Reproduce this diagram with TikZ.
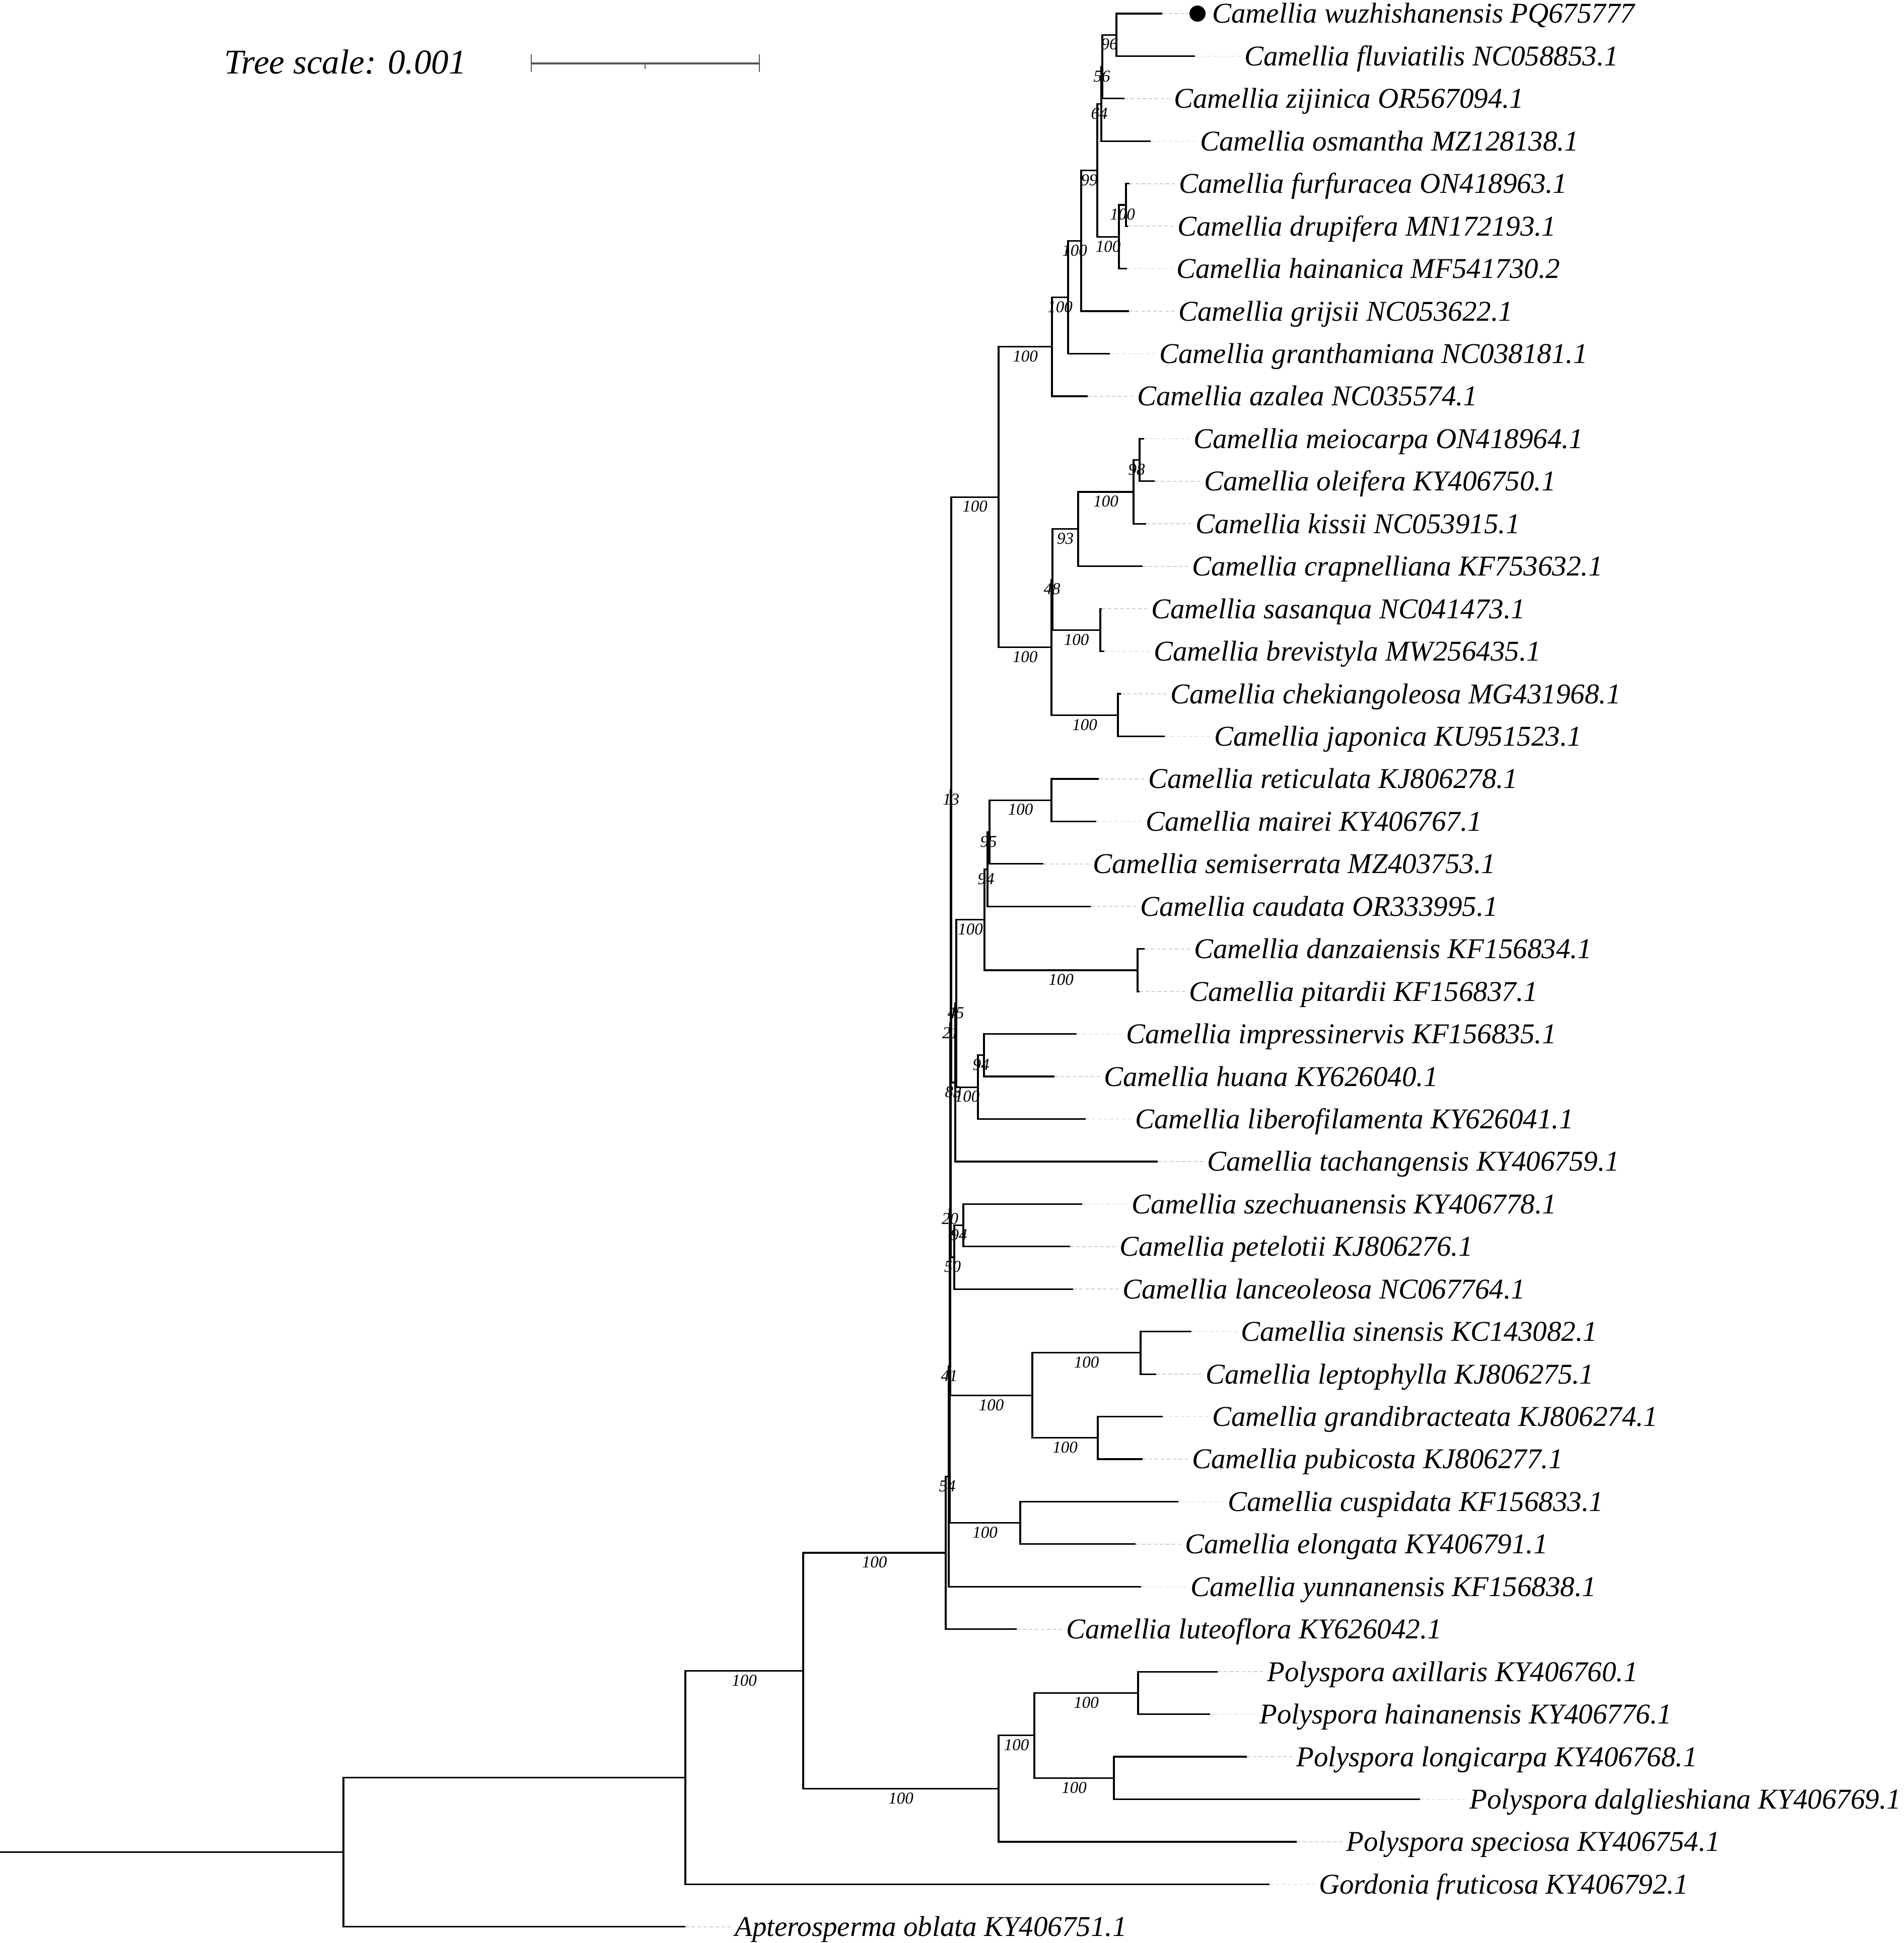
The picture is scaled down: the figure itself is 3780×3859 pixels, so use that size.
\documentclass[tikz,border=0pt]{standalone}
\usepackage{fontspec}
\setmainfont{Liberation Serif}
\usetikzlibrary{calc}
\definecolor{scalegray}{HTML}{555555}
\definecolor{leadergray}{HTML}{CFCFCF}
\tikzset{
  br/.style={line width=3.2pt, black},
  leader/.style={line width=1.6pt, leadergray, dash pattern=on 7pt off 5pt, shorten >=8pt},
  tiplab/.style={anchor=base west, inner sep=0pt, font=\fontsize{57}{60}\selectfont\itshape},
  bslab/.style={anchor=center, inner sep=0pt, font=\fontsize{33}{36}\selectfont\itshape},
  scaletext/.style={anchor=base west, inner sep=0pt, font=\fontsize{69}{72}\selectfont\itshape},
  scalebar/.style={line width=3.4pt, scalegray},
  scaletick/.style={line width=2.2pt, scalegray},
}
\newcommand{\TipLeaf}[4]{%
  \pgfmathsetmacro\tipyy{27+(#2-1)*84.44}%
  \coordinate (#1) at (#3,\tipyy);%
  \node[tiplab] (#1-lab) at (#3+98,\tipyy+19) {#4};%
  \draw[leader] (#1) -- (#1 -| #1-lab.west);%
}
\newcommand{\INode}[4]{%
  \path let \p1=(#3), \p2=(#4) in (#2pt,{(\y1+\y2)/2}) coordinate (#1);%
  \draw[br] (#1) |- (#3) (#1) |- (#4);%
}
\newcommand{\BsLab}[3]{%
  \path let \p1=(#1), \p2=(#2) in node[bslab] (bs-#2) at ({(\x1+\x2)/2},{\y2-19pt}) {#3};%
}
\begin{document}
\begin{tikzpicture}[x=1pt,y=-1pt]
\fill[white] (0,0) rectangle (3780,3859);
\useasboundingbox (0,0) rectangle (3780,3859);

% scale
\node[scaletext] (scale-lab) at (445,147) {Tree scale: 0.001};
\coordinate (sb1) at (1055,126);
\coordinate (sb2) at (1508,126);
\coordinate (sbm) at (1281,126);
\draw[scalebar] (sb1) -- (sb2);
\draw[scaletick] ([yshift=17.5pt]sb1) -- ([yshift=-17.5pt]sb1);
\draw[scaletick] ([yshift=17.5pt]sb2) -- ([yshift=-17.5pt]sb2);
\draw[scaletick] (sbm) -- ([yshift=-11pt]sbm);

% row 1 with marker
\coordinate (wuz) at (2308,27);
\node[circle, fill=black, inner sep=0pt, minimum size=32pt] (dot) at (2378,27) {};
\node[tiplab] (wuz-lab) at (2407,46) {Camellia wuzhishanensis PQ675777};
\draw[leader, shorten >=2pt] (wuz) -- (dot.west);

\TipLeaf{flu}{2}{2373}{Camellia fluviatilis NC058853.1}
\TipLeaf{zij}{3}{2233}{Camellia zijinica OR567094.1}
\TipLeaf{osm}{4}{2285}{Camellia osmantha MZ128138.1}
\TipLeaf{fur}{5}{2243}{Camellia furfuracea ON418963.1}
\TipLeaf{dru}{6}{2240}{Camellia drupifera MN172193.1}
\TipLeaf{hai}{7}{2238}{Camellia hainanica MF541730.2}
\TipLeaf{gri}{8}{2242}{Camellia grijsii NC053622.1}
\TipLeaf{gra}{9}{2204}{Camellia granthamiana NC038181.1}
\TipLeaf{aza}{10}{2160}{Camellia azalea NC035574.1}
\TipLeaf{mei}{11}{2272}{Camellia meiocarpa ON418964.1}
\TipLeaf{ole}{12}{2293}{Camellia oleifera KY406750.1}
\TipLeaf{kis}{13}{2276}{Camellia kissii NC053915.1}
\TipLeaf{cra}{14}{2269}{Camellia crapnelliana KF753632.1}
\TipLeaf{sas}{15}{2188}{Camellia sasanqua NC041473.1}
\TipLeaf{bre}{16}{2193}{Camellia brevistyla MW256435.1}
\TipLeaf{che}{17}{2226}{Camellia chekiangoleosa MG431968.1}
\TipLeaf{jap}{18}{2313}{Camellia japonica KU951523.1}
\TipLeaf{ret}{19}{2182}{Camellia reticulata KJ806278.1}
\TipLeaf{mai}{20}{2177}{Camellia mairei KY406767.1}
\TipLeaf{sem}{21}{2072}{Camellia semiserrata MZ403753.1}
\TipLeaf{cau}{22}{2166}{Camellia caudata OR333995.1}
\TipLeaf{dan}{23}{2273}{Camellia danzaiensis KF156834.1}
\TipLeaf{pit}{24}{2263}{Camellia pitardii KF156837.1}
\TipLeaf{imp}{25}{2138}{Camellia impressinervis KF156835.1}
\TipLeaf{hua}{26}{2094}{Camellia huana KY626040.1}
\TipLeaf{lib}{27}{2156}{Camellia liberofilamenta KY626041.1}
\TipLeaf{tac}{28}{2299}{Camellia tachangensis KY406759.1}
\TipLeaf{sze}{29}{2149}{Camellia szechuanensis KY406778.1}
\TipLeaf{pet}{30}{2125}{Camellia petelotii KJ806276.1}
\TipLeaf{lan}{31}{2131}{Camellia lanceoleosa NC067764.1}
\TipLeaf{sin}{32}{2366}{Camellia sinensis KC143082.1}
\TipLeaf{lep}{33}{2296}{Camellia leptophylla KJ806275.1}
\TipLeaf{grb}{34}{2309}{Camellia grandibracteata KJ806274.1}
\TipLeaf{pub}{35}{2269}{Camellia pubicosta KJ806277.1}
\TipLeaf{cus}{36}{2340}{Camellia cuspidata KF156833.1}
\TipLeaf{elo}{37}{2255}{Camellia elongata KY406791.1}
\TipLeaf{yun}{38}{2266}{Camellia yunnanensis KF156838.1}
\TipLeaf{lut}{39}{2019}{Camellia luteoflora KY626042.1}
\TipLeaf{pax}{40}{2418}{Polyspora axillaris KY406760.1}
\TipLeaf{pha}{41}{2403}{Polyspora hainanensis KY406776.1}
\TipLeaf{plo}{42}{2476}{Polyspora longicarpa KY406768.1}
\TipLeaf{pda}{43}{2820}{Polyspora dalglieshiana KY406769.1}
\TipLeaf{psp}{44}{2575}{Polyspora speciosa KY406754.1}
\TipLeaf{gor}{45}{2521}{Gordonia fruticosa KY406792.1}
\TipLeaf{apt}{46}{1361}{Apterosperma oblata KY406751.1}

% internal nodes
\INode{n96}{2217}{wuz}{flu}
\INode{n56}{2189}{n96}{zij}
\INode{n64}{2187}{n56}{osm}
\INode{n100b}{2236}{fur}{dru}
\INode{n100a}{2222}{n100b}{hai}
\INode{n99}{2179}{n64}{n100a}
\INode{n100c}{2147}{n99}{gri}
\INode{n100d}{2121}{n100c}{gra}
\INode{n100e}{2089}{n100d}{aza}
\INode{n98}{2263}{mei}{ole}
\INode{n100g}{2251}{n98}{kis}
\INode{n93}{2141}{n100g}{cra}
\INode{n100p}{2185}{sas}{bre}
\INode{n48}{2090}{n93}{n100p}
\INode{n100q}{2220}{che}{jap}
\INode{n100f}{2088}{n48}{n100q}
\INode{nP}{1983}{n100e}{n100f}
\INode{n100i}{2088}{ret}{mai}
\INode{n95}{1965}{n100i}{sem}
\INode{n94a}{1961}{n95}{cau}
\INode{n100j}{2259}{dan}{pit}
\INode{n100h}{1955}{n94a}{n100j}
\INode{n94b}{1954}{imp}{hua}
\INode{n100k}{1942}{n94b}{lib}
\INode{n45}{1899}{n100h}{n100k}
\INode{n83}{1897}{n45}{tac}
\INode{n13}{1889}{nP}{n83}
\INode{n94c}{1913}{sze}{pet}
\INode{n50}{1895}{n94c}{lan}
\INode{n21}{1888}{n13}{n50}
\INode{n100m}{2265}{sin}{lep}
\INode{n100n}{2180}{grb}{pub}
\INode{n100l}{2050}{n100m}{n100n}
\INode{n20}{1887}{n21}{n100l}
\INode{n100o}{2026}{cus}{elo}
\INode{n41}{1886}{n20}{n100o}
\INode{n54}{1884}{n41}{yun}
\INode{nR}{1878}{n54}{lut}
\INode{nF}{2260}{pax}{pha}
\INode{nG}{2212}{plo}{pda}
\INode{nE}{2054}{nF}{nG}
\INode{nD}{1983}{nE}{psp}
\INode{nC}{1595}{nR}{nD}
\INode{nB}{1361}{nC}{gor}
\INode{nA}{682}{nB}{apt}
\path (nA) ++(-682,0) coordinate (root);
\draw[br] (root) -- (nA);

% bootstrap values
\BsLab{nB}{nC}{100}
\BsLab{nC}{nR}{100}
\BsLab{nC}{nD}{100}
\BsLab{nD}{nE}{100}
\BsLab{nE}{nF}{100}
\BsLab{nE}{nG}{100}
\BsLab{nR}{n54}{54}
\BsLab{n54}{n41}{41}
\BsLab{n41}{n20}{20}
\BsLab{n20}{n21}{21}
\BsLab{n21}{n13}{13}
\BsLab{n13}{nP}{100}
\BsLab{n13}{n83}{83}
\BsLab{n83}{n45}{45}
\BsLab{n45}{n100h}{100}
\BsLab{n45}{n100k}{100}
\BsLab{n100h}{n94a}{94}
\BsLab{n94a}{n95}{95}
\BsLab{n95}{n100i}{100}
\BsLab{n100h}{n100j}{100}
\BsLab{n100k}{n94b}{94}
\BsLab{n21}{n50}{50}
\BsLab{n50}{n94c}{94}
\BsLab{n20}{n100l}{100}
\BsLab{n100l}{n100m}{100}
\BsLab{n100l}{n100n}{100}
\BsLab{n41}{n100o}{100}
\BsLab{nP}{n100e}{100}
\BsLab{n100e}{n100d}{100}
\BsLab{n100d}{n100c}{100}
\BsLab{n100c}{n99}{99}
\BsLab{n99}{n64}{64}
\BsLab{n64}{n56}{56}
\BsLab{n56}{n96}{96}
\BsLab{n99}{n100a}{100}
\BsLab{n100a}{n100b}{100}
\BsLab{nP}{n100f}{100}
\BsLab{n100f}{n48}{48}
\BsLab{n48}{n93}{93}
\BsLab{n93}{n100g}{100}
\BsLab{n100g}{n98}{98}
\BsLab{n48}{n100p}{100}
\BsLab{n100f}{n100q}{100}
\end{tikzpicture}
\end{document}
